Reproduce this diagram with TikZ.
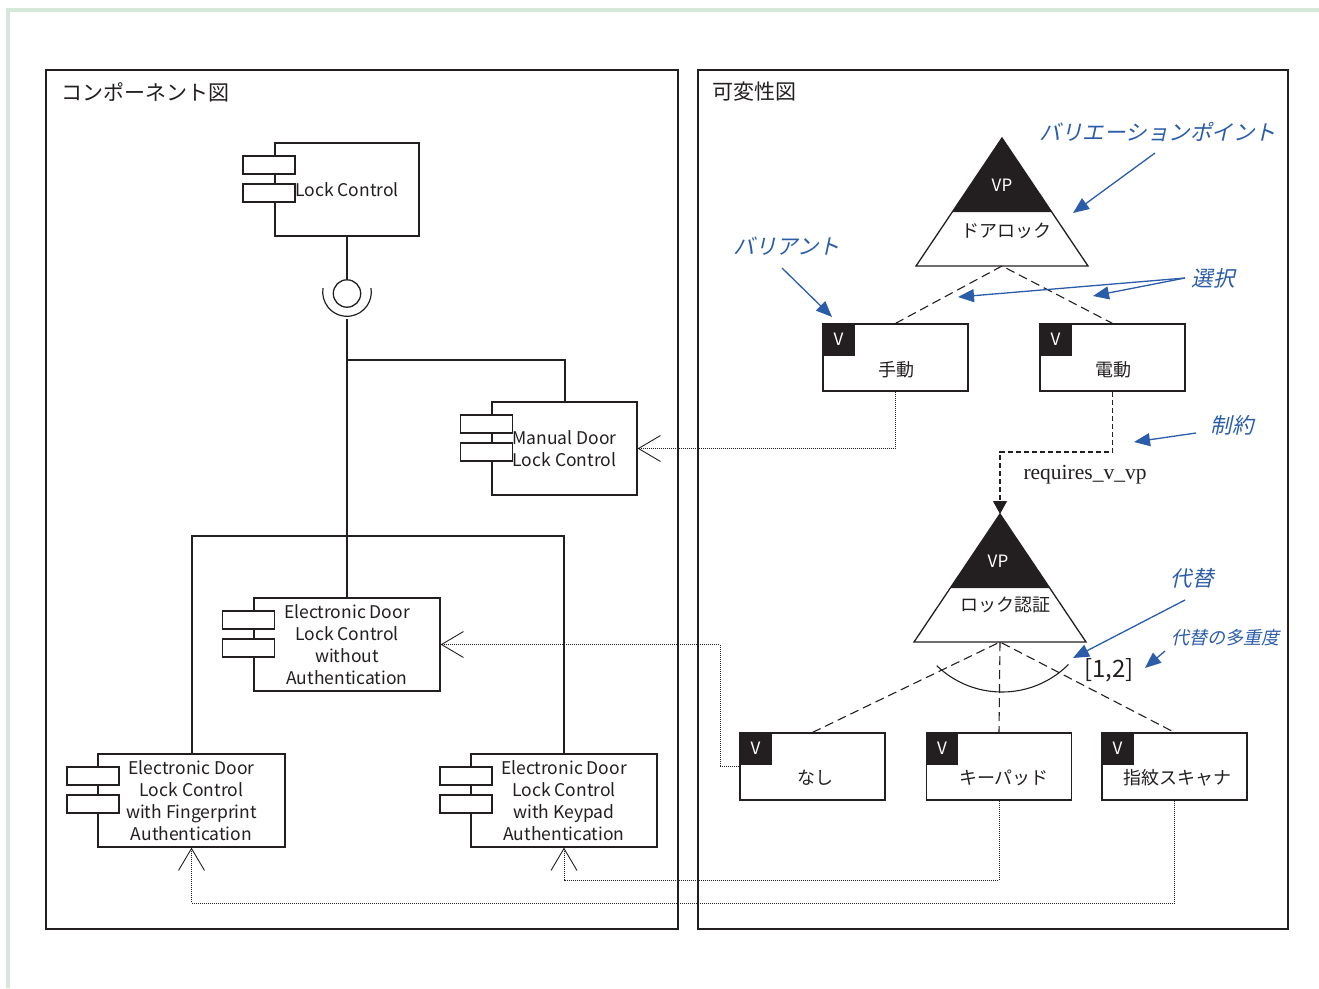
\documentclass[tikz,border=0pt]{standalone}
\usepackage{fontspec}
\setmainfont{Noto Sans CJK JP}
\newfontfamily\annfont[FakeSlant=0.22]{Noto Sans CJK JP}
\newfontfamily\serfont{Liberation Serif}
\usetikzlibrary{arrows.meta}
\definecolor{frameg}{HTML}{D5E8D9}
\definecolor{ink}{HTML}{231F20}
\definecolor{annblue}{HTML}{2A5CAA}
\begin{document}
\begin{tikzpicture}[x=1pt,y=-1pt,
  panel/.style={draw=ink,line width=1.4pt},
  title/.style={anchor=west,inner sep=0pt,font=\fontsize{21}{24}\selectfont,text=ink},
  comp/.style={draw=ink,line width=1.2pt,fill=white,align=center,inner sep=0pt,
    font=\fontsize{17.5}{22}\selectfont,text=ink},
  port/.style={draw=ink,line width=1.2pt,fill=white,minimum width=52pt,minimum height=18pt,inner sep=0pt},
  wire/.style={draw=ink,line width=2pt},
  trace/.style={draw=ink,line width=0.9pt,dash pattern=on 1pt off 1pt,
    -{Straight Barb[length=22pt,width=26pt]}},
  vbox/.style={draw=ink,line width=1.2pt,minimum width=145pt,minimum height=67pt,inner sep=0pt},
  vsq/.style={fill=ink,anchor=north west,minimum size=32pt,inner sep=0pt,text=white,
    font=\fontsize{17}{17}\selectfont},
  vtext/.style={inner sep=0pt,font=\fontsize{18}{20}\selectfont,text=ink},
  vplabel/.style={inner sep=0pt,text=white,font=\fontsize{17}{17}\selectfont},
  vpname/.style={inner sep=0pt,text=ink,font=\fontsize{18}{20}\selectfont},
  varline/.style={draw=ink,line width=1.1pt,dash pattern=on 9pt off 5pt},
  ann/.style={inner sep=0pt,text=annblue,font=\annfont\fontsize{21.5}{24}\selectfont},
  annarrow/.style={draw=annblue,line width=1.3pt,-{Triangle[length=16pt,width=13pt]}}
]
\useasboundingbox (0,0) rectangle (1319,988);
% green frame
\draw[frameg,line width=3.5pt] (8,988) -- (8,10) -- (1319,10);
% panels
\draw[panel] (46,70) rectangle (678,929);
\draw[panel] (698,70) rectangle (1288,929);
\node[title] (t1) at (61,92) {コンポーネント図};
\node[title] (t2) at (712,92) {可変性図};

% ---------- components ----------
\node[comp,minimum width=144pt,minimum height=93pt] (lc) at (347,189.5) {Lock Control};
\node[port] (lcp1) at (269,165) {};
\node[port] (lcp2) at (269,193) {};

\node[comp,minimum width=145pt,minimum height=93pt] (md) at (564.5,448.5) {Manual Door\\Lock Control};
\node[port] (mdp1) at (486.5,424) {};
\node[port] (mdp2) at (486.5,452) {};

\node[comp,minimum width=186pt,minimum height=93pt] (wa) at (347,644.5) {Electronic Door\\Lock Control\\without\\Authentication};
\node[port] (wap1) at (248.5,620) {};
\node[port] (wap2) at (248.5,648) {};

\node[comp,minimum width=187pt,minimum height=93pt] (fp) at (191.5,800.5) {Electronic Door\\Lock Control\\with Fingerprint\\Authentication};
\node[port] (fpp1) at (93,776) {};
\node[port] (fpp2) at (93,804) {};

\node[comp,minimum width=186pt,minimum height=93pt] (kp) at (564,800.5) {Electronic Door\\Lock Control\\with Keypad\\Authentication};
\node[port] (kpp1) at (466,776) {};
\node[port] (kpp2) at (466,804) {};

% lollipop and socket
\node[draw=ink,line width=1.3pt,circle,minimum size=27.4pt,inner sep=0pt] (lolly) at (347,293.5) {};
\draw[wire] (lc.south) -- (lolly.north);
\coordinate (sockc) at (347,292);
\draw[ink,line width=1.2pt] (sockc) ++(-9:24.3) arc[start angle=-9,end angle=189,radius=24.3];
\coordinate (sock) at (347,319);
\draw[wire] (sock) -- (wa.north);
\coordinate (j1) at (347,360);
\draw[wire] (j1) -| (md.north);
\coordinate (j2) at (347,536);
\draw[wire] (fp.north) |- (j2) -| (kp.north);

% ---------- variability ----------
% VP1
\coordinate (vp1top) at (1002,138);
\coordinate (vp1bot) at (1002,266);
\fill[ink] (vp1top) -- (952.3,212) -- (1051.7,212) -- cycle;
\draw[ink,line width=1.3pt] (vp1top) -- (916,266) -- (1088,266) -- cycle;
\node[vplabel] (vp1l) at (1002,185) {VP};
\node[vpname] (vp1n) at (1006,231) {ドアロック};

% VP2
\coordinate (vp2top) at (1000,514);
\coordinate (vp2bot) at (1000,642);
\fill[ink] (vp2top) -- (950.3,588) -- (1049.7,588) -- cycle;
\draw[ink,line width=1.3pt] (vp2top) -- (914,642) -- (1086,642) -- cycle;
\node[vplabel] (vp2l) at (998,561) {VP};
\node[vpname] (vp2n) at (1005,605) {ロック認証};

% variants
\node[vbox] (man) at (895.5,357.5) {};
\node[vsq] (mansq) at (man.north west) {V};
\node[vtext] (mant) at (896,370) {手動};
\node[vbox] (ele) at (1112.5,357.5) {};
\node[vsq] (elesq) at (ele.north west) {V};
\node[vtext] (elet) at (1113,370) {電動};

\node[vbox] (nas) at (812.5,766.5) {};
\node[vsq] (nassq) at (nas.north west) {V};
\node[vtext] (nast) at (815,778) {なし};
\node[vbox] (kpv) at (999,766.5) {};
\node[vsq] (kpvsq) at (kpv.north west) {V};
\node[vtext] (kpvt) at (1004,778) {キーパッド};
\node[vbox] (fpv) at (1174.5,766.5) {};
\node[vsq] (fpvsq) at (fpv.north west) {V};
\node[vtext] (fpvt) at (1177,778) {指紋スキャナ};

% dashed variant links
\draw[varline] (man.north) -- (vp1bot) -- (ele.north);
\draw[varline] (nas.north) -- (vp2bot) -- (fpv.north);
\draw[varline] (vp2bot) -- (kpv.north);
\coordinate (altc) at (1002,598);
\draw[ink,line width=1.1pt] (altc) ++(45:94) arc[start angle=45,end angle=134,radius=94];
\node[inner sep=0pt,text=ink,font=\fontsize{24}{26}\selectfont] (mult) at (1109,670) {[1,2]};

% requires constraint
\draw[draw=ink,line width=1.1pt,dash pattern=on 5pt off 3pt,-{Triangle[length=13pt,width=14pt]}]
  (ele.south) -- (ele.south |- 0,452) -| (vp2top);
\node[inner sep=0pt,text=ink,font=\serfont\fontsize{21.5}{24}\selectfont] (req) at (1085,475) {requires\_v\_vp};

% traces
\draw[trace] (man.south) |- (md.east);
\coordinate (nasturn) at (720,766.5);
\draw[trace] (nas.west) -- (nasturn) |- (wa.east);
\draw[trace] (kpv.south) -- (kpv.south |- 0,880) -| (kp.south);
\draw[trace] (fpv.south) -- (fpv.south |- 0,903) -| (fp.south);

% ---------- annotations ----------
\node[ann] (avp) at (1158,132) {バリエーションポイント};
\coordinate (avps) at (1155,153);
\coordinate (avpe) at (1073,213);
\draw[annarrow] (avps) -- (avpe);

\node[ann] (avar) at (787,246) {バリアント};
\coordinate (avars) at (782,268);
\coordinate (avare) at (832,317);
\draw[annarrow] (avars) -- (avare);

\node[ann] (asel) at (1213,278) {選択};
\coordinate (asels) at (1185,278);
\coordinate (asele1) at (958,297);
\coordinate (asele2) at (1093,296);
\draw[annarrow] (asels) -- (asele1);
\draw[annarrow] (asels) -- (asele2);

\node[ann] (acon) at (1232,425) {制約};
\coordinate (acons) at (1196,433);
\coordinate (acone) at (1134,442);
\draw[annarrow] (acons) -- (acone);

\node[ann] (aalt) at (1192,578) {代替};
\coordinate (aalts) at (1185,600);
\coordinate (aalte) at (1073,658);
\draw[annarrow] (aalts) -- (aalte);

\node[ann,font=\annfont\fontsize{18}{20}\selectfont] (amul) at (1225,638) {代替の多重度};
\coordinate (amuls) at (1165,651);
\coordinate (amule) at (1145,668);
\draw[annarrow] (amuls) -- (amule);
\end{tikzpicture}
\end{document}
